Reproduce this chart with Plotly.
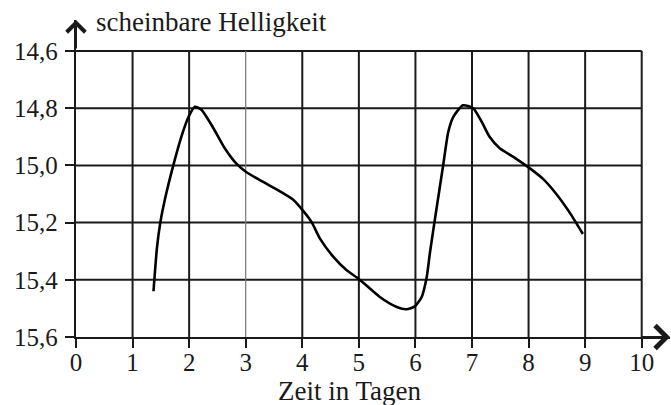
import plotly.graph_objects as go

# Data
days = [1.37, 1.43, 1.49, 1.57, 1.72, 1.87, 1.99, 2.10, 2.22, 2.43, 2.63, 2.84,
        3.02, 3.31, 3.60, 3.84, 4.02, 4.17, 4.31, 4.55, 4.78, 5.00, 5.37, 5.67,
        5.84, 5.99, 6.11, 6.20, 6.26, 6.37, 6.49, 6.58, 6.67, 6.84, 7.02, 7.17,
        7.31, 7.49, 7.73, 8.00, 8.26, 8.49, 8.73, 8.96]
magnitude = [15.44, 15.29, 15.20, 15.12, 15.00, 14.895, 14.83, 14.795, 14.806, 14.87, 14.94, 14.995,
             15.025, 15.058, 15.09, 15.12, 15.16, 15.20, 15.255, 15.32, 15.366, 15.397, 15.46, 15.495,
             15.503, 15.493, 15.46, 15.39, 15.30, 15.155, 15.00, 14.883, 14.83, 14.79, 14.80, 14.847,
             14.90, 14.94, 14.97, 15.007, 15.048, 15.10, 15.166, 15.24]

x_ticks = list(range(0, 11))
y_ticks = [14.6, 14.8, 15.0, 15.2, 15.4, 15.6]
y_tick_labels = ["14,6", "14,8", "15,0", "15,2", "15,4", "15,6"]

x_title = "Zeit in Tagen"
y_title = "scheinbare Helligkeit"

FONT = "Liberation Serif, Times New Roman, serif"
INK = "#1a1a1a"

fig = go.Figure()
fig.add_trace(go.Scatter(
    x=days, y=magnitude, mode="lines",
    line=dict(color="#000000", width=2.6, shape="spline", smoothing=0.6),
    hoverinfo="skip", showlegend=False,
))

shapes = []
for yv in y_ticks[:-1]:
    shapes.append(dict(type="line", xref="x", yref="y", x0=0, x1=10, y0=yv, y1=yv,
                       line=dict(color=INK, width=2), layer="below"))
for xv in x_ticks[1:]:
    thin = (xv == 3)
    shapes.append(dict(type="line", xref="x", yref="y", x0=xv, x1=xv, y0=y_ticks[0], y1=y_ticks[-1],
                       line=dict(color="#777777" if thin else INK, width=1.2 if thin else 2),
                       layer="below"))

annotations = [
    # arrow heads on axes
    dict(xref="paper", yref="paper", x=0, y=1, ax=0, ay=30, text="", showarrow=True,
         arrowhead=4, arrowwidth=2, arrowsize=1.8, arrowcolor=INK, standoff=0),
    dict(xref="paper", yref="paper", x=1, y=0, ax=-30, ay=0, text="", showarrow=True,
         arrowhead=4, arrowwidth=2, arrowsize=2.2, arrowcolor=INK, standoff=0),
    dict(xref="paper", yref="paper", x=0, y=1, xanchor="left", yanchor="middle",
         xshift=18, yshift=-2, text=y_title, showarrow=False,
         font=dict(family=FONT, size=27, color=INK)),
    dict(xref="x", yref="paper", x=4.85, y=0, xanchor="center", yanchor="middle",
         yshift=-54, text=x_title, showarrow=False,
         font=dict(family=FONT, size=27, color=INK)),
]

fig.update_layout(
    width=671, height=405,
    margin=dict(l=76, r=1, t=20, b=68, pad=0),
    paper_bgcolor="white", plot_bgcolor="white",
    shapes=shapes, annotations=annotations,
    showlegend=False,
    xaxis=dict(range=[0, 10.5], tickvals=x_ticks, ticktext=[str(v) for v in x_ticks],
               showgrid=False, zeroline=False, showline=True, linecolor=INK, linewidth=2.4,
               ticks="outside", ticklen=9, tickwidth=2, tickcolor=INK, ticklabelstandoff=-7,
               tickfont=dict(family=FONT, size=25, color=INK)),
    yaxis=dict(range=[15.6, 14.4916], tickvals=y_ticks, ticktext=y_tick_labels,
               showgrid=False, zeroline=False, showline=True, linecolor=INK, linewidth=2.4,
               ticks="outside", ticklen=9, tickwidth=2, tickcolor=INK, ticklabelstandoff=2,
               tickfont=dict(family=FONT, size=25, color=INK)),
)

fig.write_html("out.html", config={"displayModeBar": False},
               post_script="document.body.style.margin='0';document.body.style.overflow='hidden';")
